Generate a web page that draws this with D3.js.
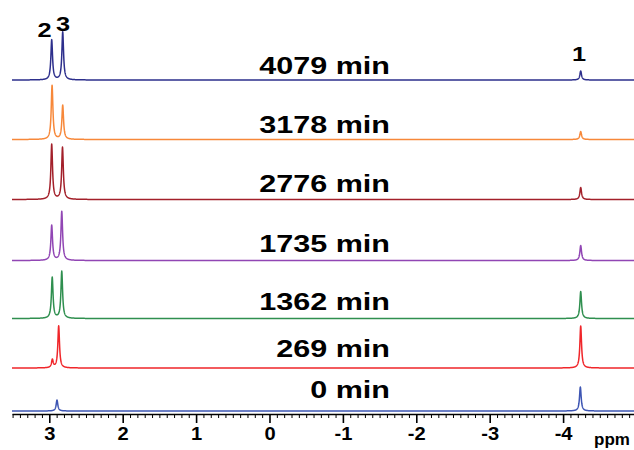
<!DOCTYPE html>
<html>
<head>
<meta charset="utf-8">
<script src="https://cdn.jsdelivr.net/npm/d3@7"></script>
<style>
  html, body { margin: 0; padding: 0; background: #fff; }
  svg { display: block; }
  text { font-family: "Liberation Sans", Arial, Helvetica, sans-serif; font-weight: bold; fill: #000; }
</style>
</head>
<body>
<svg id="chart" width="634" height="450"></svg>
<script>
// ---- data ----
const timeLabels   = ["4079 min", "3178 min", "2776 min", "1735 min", "1362 min", "269 min", "0 min"];
const traceColors  = ["#2d2f8c", "#f7883a", "#a3202a", "#9146b4", "#2f8f4f", "#f0262a", "#3d55b3"];
const peak2Ppm     = [2.967, 2.962, 2.967, 2.967, 2.960, 2.958, 2.958];
const peak2Height  = [40, 54, 55, 35, 41, 8, 0];
const peak3Ppm     = [2.817, 2.817, 2.820, 2.830, 2.830, 2.872, 2.895];
const peak3Height  = [48, 34, 52, 49, 47, 42, 11];
const peak1Ppm     = [-4.24, -4.24, -4.24, -4.24, -4.24, -4.24, -4.235];
const peak1Height  = [9, 8, 12, 15, 27, 42, 24];
const majorTicks   = [3, 2, 1, 0, -1, -2, -3, -4];
const peakLabels   = ["2", "3", "1"];
const axisUnit     = "ppm";

// ---- layout ----
const svg = d3.select("#chart");
const ppmRange = [3.508, -4.966];
const x = d3.scaleLinear().domain(ppmRange).range([12, 634]);
const traceBaseY = [80, 139.5, 199.5, 260.5, 318.5, 368, 411];
const labelBaseY = [74, 133, 191.5, 251.5, 309.5, 356.5, 398];
const axisY = 414;
const intensity = d3.scaleLinear().domain([0, 60]).range([0, -60]);
const hwhm = 0.0135;

function spectrum(i) {
  const peaks = [
    [peak2Ppm[i], peak2Height[i]],
    [peak3Ppm[i], peak3Height[i]],
    [peak1Ppm[i], peak1Height[i]]
  ].filter(p => p[1] > 0);
  const grid = d3.range(ppmRange[0], ppmRange[1] - 0.001, -0.002).concat(peaks.map(p => p[0]));
  grid.sort((a, b) => b - a);
  return grid.map(p => {
    let v = 0;
    for (const [c, h] of peaks) {
      const d = (p - c) / hwhm;
      v += h / (1 + d * d);
    }
    return [p, v];
  });
}

const line = d3.line().x(d => x(d[0]));

timeLabels.forEach((lab, i) => {
  const g = svg.append("g").attr("transform", `translate(0,${traceBaseY[i]})`);
  g.append("path")
    .datum(spectrum(i))
    .attr("fill", "none")
    .attr("stroke", traceColors[i])
    .attr("stroke-width", 1.5)
    .attr("stroke-linejoin", "round")
    .attr("d", line.y(d => intensity(d[1])));

  svg.append("text")
    .attr("transform", `translate(390,${labelBaseY[i]}) scale(1.3,1)`)
    .attr("text-anchor", "end")
    .attr("font-size", 23.5)
    .text(lab);
});

// peak labels above top trace
const plPos = [[44.5, 37], [63, 31], [579, 61]];
peakLabels.forEach((t, k) => {
  svg.append("text")
    .attr("transform", `translate(${plPos[k][0]},${plPos[k][1]}) scale(1.3,1)`)
    .attr("text-anchor", "middle")
    .attr("font-size", 19.5)
    .text(t);
});

// axis
const minorTicks = d3.range(35, -50, -1).map(v => v / 10).filter(v => v <= ppmRange[0] && v >= ppmRange[1] && !majorTicks.includes(v));
const axisG = svg.append("g").attr("transform", `translate(0,${axisY})`);
axisG.call(d3.axisBottom(x).tickValues(minorTicks).tickSize(4).tickSizeOuter(0).tickFormat(""))
  .call(g => g.selectAll("line").attr("stroke", "#000").attr("stroke-width", 1))
  .call(g => g.select(".domain").attr("stroke", "#000").attr("stroke-width", 1.6));
const majG = svg.append("g").attr("transform", `translate(0,${axisY})`);
majG.call(d3.axisBottom(x).tickValues(majorTicks).tickSize(9).tickSizeOuter(0).tickPadding(5).tickFormat(d => String(d)))
  .call(g => g.select(".domain").remove())
  .call(g => g.selectAll("line").attr("stroke", "#000").attr("stroke-width", 1.6))
  .call(g => g.selectAll("text")
    .attr("font-size", 17.5)
    .attr("transform", "scale(1.15,1)")
    .attr("font-family", "'Liberation Sans', Arial, sans-serif")
    .attr("font-weight", "bold")
    .attr("fill", "#000"));

svg.append("text")
  .attr("x", 594).attr("y", 445)
  .attr("font-size", 17)
  .text(axisUnit);
</script>
</body>
</html>
